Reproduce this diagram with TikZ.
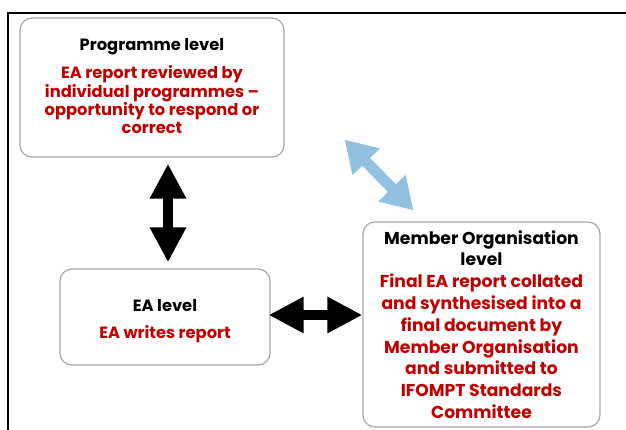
\documentclass[tikz,border=0pt]{standalone}
\usepackage{fontspec}
\setmainfont{Poppins}
\usetikzlibrary{arrows.meta,calc}
\definecolor{txtred}{HTML}{C00000}
\definecolor{boxgray}{HTML}{A6A6A6}
\definecolor{lblue}{HTML}{92C1DF}
\tikzset{
  box/.style={draw=boxgray, line width=1.2pt, rounded corners=12pt, fill=white, inner sep=0pt},
  boxtext/.style={align=center, inner sep=0pt, font=\bfseries\fontsize{16.3}{18.3}\selectfont},
  bigarrow/.style={line width=10pt, {Triangle[width=34pt,length=35pt]}-{Triangle[width=34pt,length=35pt]}},
  bluearrow/.style={draw=lblue, line width=11pt, {Triangle[width=36pt,length=31pt]}-{Triangle[width=36pt,length=31pt]}},
}
\begin{document}
\begin{tikzpicture}[x=1pt,y=-1pt]
\useasboundingbox (0,0) rectangle (626,430);
\coordinate (fl) at (8,430);
\coordinate (ftl) at (8,13);
\coordinate (fr) at (626,13);
\draw[line width=1.5pt] (fl) -- (ftl) -- (fr);
\node[box, minimum width=264pt, minimum height=139pt] (prog) at (152,87.5) {};
\node[boxtext] (progt) at ($(prog.center)+(0,-1.5)$)
  {Programme level\\[10.5pt]\textcolor{txtred}{EA report reviewed by}\\\textcolor{txtred}{individual programmes –}\\\textcolor{txtred}{opportunity to respond or}\\\textcolor{txtred}{correct}};
\node[box, minimum width=210pt, minimum height=96pt] (ea) at (165,317) {};
\node[boxtext] (eat) at ($(ea.center)+(0,4)$)
  {EA level\\[8.5pt]\textcolor{txtred}{EA writes report}};
\node[box, minimum width=237pt, minimum height=205pt] (mo) at (481.5,324.5) {};
\node[boxtext, font=\bfseries\fontsize{17.2}{21.8}\selectfont] (mot) at (mo.center)
  {Member Organisation\\level\\\textcolor{txtred}{Final EA report collated}\\\textcolor{txtred}{and synthesised into a}\\\textcolor{txtred}{final document by}\\\textcolor{txtred}{Member Organisation}\\\textcolor{txtred}{and submitted to}\\\textcolor{txtred}{IFOMPT Standards}\\\textcolor{txtred}{Committee}};
\draw[bigarrow] ($(prog.south)+(16,6)$) -- ($(ea.north)+(3,-6)$);
\draw[bigarrow] ($(ea.east)+(-2,-2)$) -- ($(mo.west |- ea.east)+(0,-2)$);
\draw[bluearrow] ($(prog.south east)+(60,-18)$) -- ($(mo.north)+(-68,-11)$);
\end{tikzpicture}
\end{document}
